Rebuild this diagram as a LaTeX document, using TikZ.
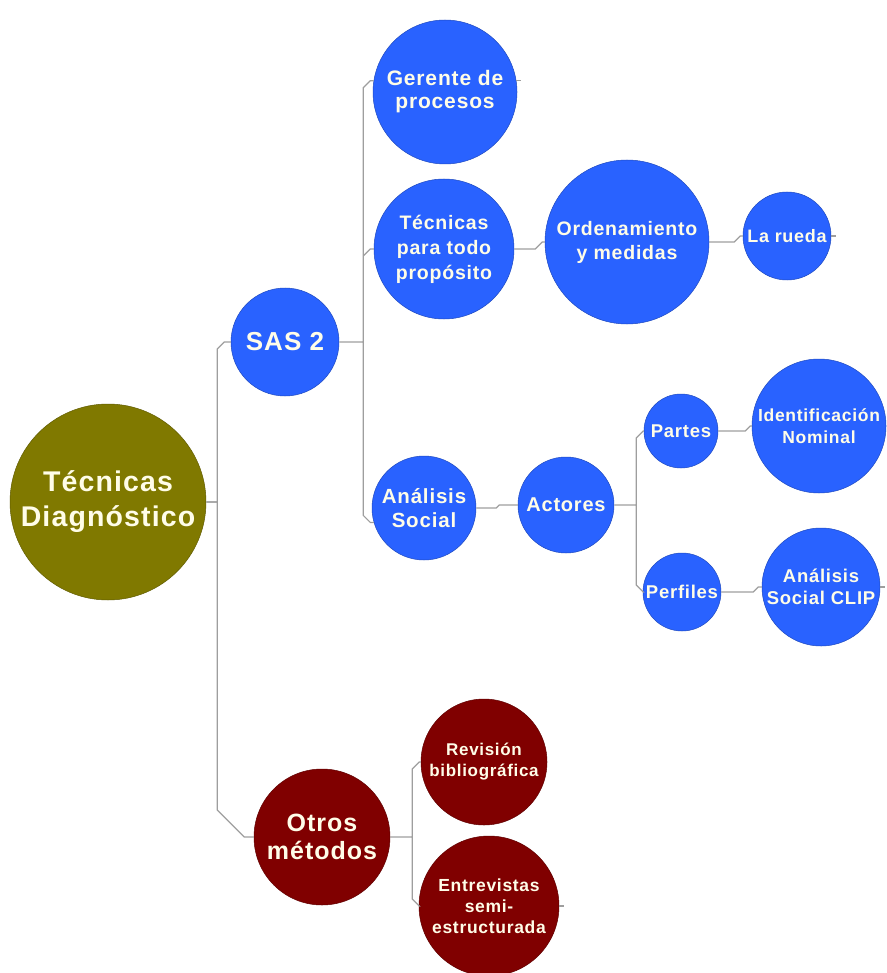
\documentclass[tikz,border=0pt]{standalone}
\usepackage{fontspec}
\setmainfont{Liberation Sans}[LetterSpace=4]
\usetikzlibrary{calc}
\definecolor{olivefill}{RGB}{128,121,0}
\definecolor{bluefill}{RGB}{41,98,255}
\definecolor{redfill}{RGB}{128,0,0}
\definecolor{labeltext}{RGB}{255,253,232}
\definecolor{linkgray}{RGB}{158,158,158}

\tikzset{
  fork/.store in=\forkx, fork=22pt,
  bevel/.store in=\bevelx, bevel=7pt,
  bubble/.style={circle,fill=#1,draw=#1!75!black,line width=0.5pt,
    text=labeltext,align=center,inner sep=0pt},
  link/.style={draw=linkgray,line width=1.2pt,
    to path={let \p1=(\tikztostart), \p2=(\tikztotarget),
      \n1={(\y2>\y1) ? 1 : -1}, \n2={min(\bevelx,abs(\y2-\y1))} in
      -- (\x1+\forkx,\y1) -- (\x1+\forkx,\y2-\n1*\n2)
      -- (\x1+\forkx+\n2,\y2) -- (\tikztotarget)}},
  stub/.style={draw=linkgray,line width=1.2pt}
}

\begin{document}
\begin{tikzpicture}[x=1pt,y=-1pt]
\useasboundingbox (0,0) rectangle (886,973);

\node [bubble=olivefill,minimum size=196pt,font=\fontsize{28.5}{35}\selectfont\bfseries]
  (root) at (108,502) {Técnicas\\Diagnóstico};
\node [bubble=bluefill,minimum size=108pt,font=\fontsize{26}{30}\selectfont\bfseries]
  (sas) at (285,342) {SAS 2};
\node [bubble=redfill,minimum size=136pt,font=\fontsize{25}{28}\selectfont\bfseries]
  (otros) at (322,837) {Otros\\métodos};

\node [bubble=bluefill,minimum size=144pt,font=\fontsize{21}{23}\selectfont\bfseries]
  (gerente) at (445,92) {Gerente de\\procesos};
\node [bubble=bluefill,minimum size=140pt,font=\fontsize{19.5}{25}\selectfont\bfseries]
  (todo) at (444,249) {Técnicas\\para todo\\propósito};
\node [bubble=bluefill,minimum size=104pt,font=\fontsize{20.5}{24}\selectfont\bfseries]
  (analisis) at (424,508) {Análisis\\Social};

\node [bubble=bluefill,minimum size=164pt,font=\fontsize{19.5}{24}\selectfont\bfseries]
  (orden) at (627,242) {Ordenamiento\\y medidas};
\node [bubble=bluefill,minimum size=88pt,font=\fontsize{18}{20}\selectfont\bfseries]
  (rueda) at (787,236) {La rueda};

\node [bubble=bluefill,minimum size=96pt,font=\fontsize{20}{22}\selectfont\bfseries]
  (actores) at (566,505) {Actores};
\node [bubble=bluefill,minimum size=74pt,font=\fontsize{18.5}{20}\selectfont\bfseries]
  (partes) at (681,431) {Partes};
\node [bubble=bluefill,minimum size=78pt,font=\fontsize{18.5}{20}\selectfont\bfseries]
  (perfiles) at (682,592) {Perfiles};
\node [bubble=bluefill,minimum size=134pt,font=\fontsize{17.5}{22}\selectfont\bfseries]
  (ident) at (819,426) {Identificación\\Nominal};
\node [bubble=bluefill,minimum size=118pt,font=\fontsize{18.5}{22}\selectfont\bfseries]
  (clip) at (821,587) {Análisis\\Social CLIP};

\node [bubble=redfill,minimum size=126pt,font=\fontsize{17}{21}\selectfont\bfseries]
  (revision) at (484,762) {Revisión\\bibliográfica};
\node [bubble=redfill,minimum size=140pt,font=\fontsize{17.5}{21}\selectfont\bfseries]
  (entrev) at (489,906) {Entrevistas\\semi-\\estructurada};

% branches
\draw [link,fork=11pt] (root.east) to (sas.west);
\draw [link,fork=11pt,bevel=27pt] (root.east) to (otros.west);
\draw [link,fork=24pt] (sas.east) to (gerente.171)
                       (sas.east) to (todo.west)
                       (sas.east) to (analisis.196);
\draw [link,fork=21pt,bevel=8pt] (todo.east) to (orden.west);
\draw [link,fork=25pt] (orden.east) to (rueda.west);
\draw [link,fork=20pt] (analisis.east) to (actores.west);
\draw [link,fork=22pt] (actores.east) to (partes.west)
                       (actores.east) to (perfiles.west);
\draw [link,fork=27pt] (partes.east) to (ident.west);
\draw [link,fork=32pt] (perfiles.east) to (clip.west);
\draw [link,fork=22pt] (otros.east) to (revision.west)
                       (otros.east) to (entrev.west);

% stubs on the leaves
\coordinate (gerente end) at ([xshift=5pt]gerente.9);
\coordinate (rueda end)   at ([xshift=5pt]rueda.east);
\coordinate (clip end)    at ([xshift=5pt]clip.east);
\coordinate (entrev end)  at ([xshift=5pt]entrev.east);
\draw [stub] (gerente.9) -- (gerente end)
             (rueda.east) -- (rueda end)
             (clip.east) -- (clip end)
             (entrev.east) -- (entrev end);
\end{tikzpicture}
\end{document}
